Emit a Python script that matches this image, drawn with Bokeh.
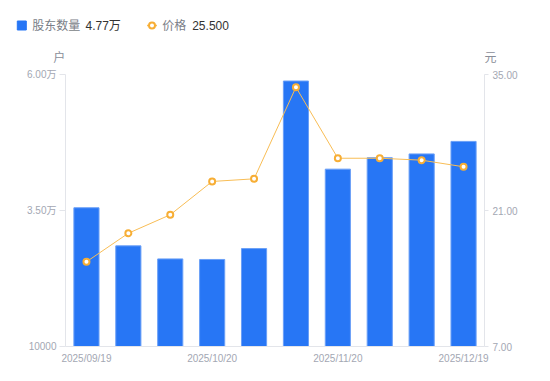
from bokeh.plotting import figure
from bokeh.models import Range1d, LinearAxis, FixedTicker, ColumnDataSource
from bokeh.core.properties import value
from bokeh.embed import file_html
from bokeh.resources import INLINE

dates = ["2025/09/19", "2025/09/30", "2025/10/10", "2025/10/20", "2025/10/31",
         "2025/11/10", "2025/11/20", "2025/11/28", "2025/12/10", "2025/12/19"]
holders = [35500, 28500, 26100, 26000, 28000, 58800, 42600, 44700, 45400, 47700]
prices = [15.72, 18.66, 20.56, 23.99, 24.26, 33.69, 26.38, 26.38, 26.18, 25.50]

x_tick_idx = [0, 3, 6, 9]
left_ticks = [10000, 35000, 60000]
left_tick_labels = ["10000", "3.50万", "6.00万"]
right_ticks = [7, 21, 35]
right_tick_labels = ["7.00", "21.00", "35.00"]
legend_names = ["股东数量", "价格"]
legend_values = ["4.77万", "25.500"]
unit_left = "户"
unit_right = "元"

FONT = "Liberation Sans, Noto Sans CJK SC"
AXIS_TXT = "#a3a7b3"
AXIS_LINE = "#e3e5ea"
BLUE = "#2776f5"
ORANGE = "#f7ae35"
W = 542

# ---------- header (legend + unit names) ----------
h = figure(width=W, height=66, output_backend="svg", toolbar_location=None,
           x_range=Range1d(0, W), y_range=Range1d(66, 0),
           x_axis_location=None, y_axis_location=None,
           min_border_left=0, min_border_right=0, min_border_top=0, min_border_bottom=0)
h.outline_line_color = None
h.xgrid.visible = False
h.ygrid.visible = False

h.scatter(x=[21.3], y=[25], marker="square", size=9, fill_color=BLUE, line_color=BLUE)
h.text(x=[31.7], y=[25], text=[legend_names[0]], text_font=value(FONT), text_font_size="12px",
       text_color="#7a7e87", text_baseline="middle", text_align="left")
h.text(x=[85], y=[25], text=[legend_values[0]], text_font=value(FONT), text_font_size="12px",
       text_color="#333333", text_baseline="middle", text_align="left")
h.line(x=[146.5, 156.5], y=[25, 25], line_color="#f8bd55", line_width=1.5)
h.scatter(x=[151.5], y=[25], marker="circle", size=6, fill_color="white", line_color=ORANGE, line_width=2)
h.text(x=[161.7], y=[25], text=[legend_names[1]], text_font=value(FONT), text_font_size="12px",
       text_color="#7a7e87", text_baseline="middle", text_align="left")
h.text(x=[191.7], y=[25], text=[legend_values[1]], text_font=value(FONT), text_font_size="12px",
       text_color="#333333", text_baseline="middle", text_align="left")
h.text(x=[58.7], y=[57], text=[unit_left], text_font=value(FONT), text_font_size="12px",
       text_color="#8a8e99", text_baseline="middle", text_align="center")
h.text(x=[490], y=[57], text=[unit_right], text_font=value(FONT), text_font_size="12px",
       text_color="#8a8e99", text_baseline="middle", text_align="center")

# ---------- main chart ----------
xs = list(range(len(dates)))
src = ColumnDataSource(dict(x=xs, holders=holders, prices=prices))

p = figure(width=W, height=310, output_backend="svg", toolbar_location=None,
           x_range=Range1d(-0.5, len(dates) - 0.5), y_range=Range1d(10000, 60000),
           min_border_left=65, min_border_right=58, min_border_top=8, min_border_bottom=30)
p.outline_line_color = None
p.xgrid.visible = False
p.ygrid.visible = False

p.extra_y_ranges = {"price": Range1d(7, 35)}

p.vbar(x="x", top="holders", bottom=10000, width=0.6, source=src,
       fill_color=BLUE, line_color="#6a9ff7", line_width=1)
p.line(x="x", y="prices", source=src, y_range_name="price",
       line_color="#f8bd55", line_width=1)
p.scatter(x="x", y="prices", source=src, y_range_name="price", size=6,
          marker="circle", fill_color="white", line_color=ORANGE, line_width=2)

xa = p.xaxis[0]
xa.ticker = FixedTicker(ticks=x_tick_idx)
xa.major_label_overrides = {i: dates[i] for i in x_tick_idx}
xa.major_tick_line_color = None
xa.major_tick_out = 0
xa.major_tick_in = 0
xa.minor_tick_line_color = None
xa.axis_line_color = AXIS_LINE
xa.major_label_text_color = AXIS_TXT
xa.major_label_text_font_size = "10px"
xa.major_label_text_font = FONT
xa.major_label_standoff = 6

ya = p.yaxis[0]
ya.ticker = FixedTicker(ticks=left_ticks)
ya.major_label_overrides = dict(zip(left_ticks, left_tick_labels))
ya.major_tick_out = 6
ya.major_tick_in = 0
ya.minor_tick_line_color = None
ya.axis_line_color = AXIS_LINE
ya.major_tick_line_color = AXIS_LINE
ya.major_label_text_color = AXIS_TXT
ya.major_label_text_font_size = "10px"
ya.major_label_text_font = FONT
ya.major_label_standoff = 3

ra = LinearAxis(y_range_name="price", ticker=FixedTicker(ticks=right_ticks))
ra.major_label_overrides = dict(zip(right_ticks, right_tick_labels))
ra.major_tick_out = 4
ra.major_tick_in = 0
ra.minor_tick_line_color = None
ra.axis_line_color = AXIS_LINE
ra.major_tick_line_color = AXIS_LINE
ra.major_label_text_color = AXIS_TXT
ra.major_label_text_font_size = "10px"
ra.major_label_text_font = FONT
ra.major_label_standoff = 4
p.add_layout(ra, "right")

open("out.html", "w").write(file_html([h, p], INLINE))
